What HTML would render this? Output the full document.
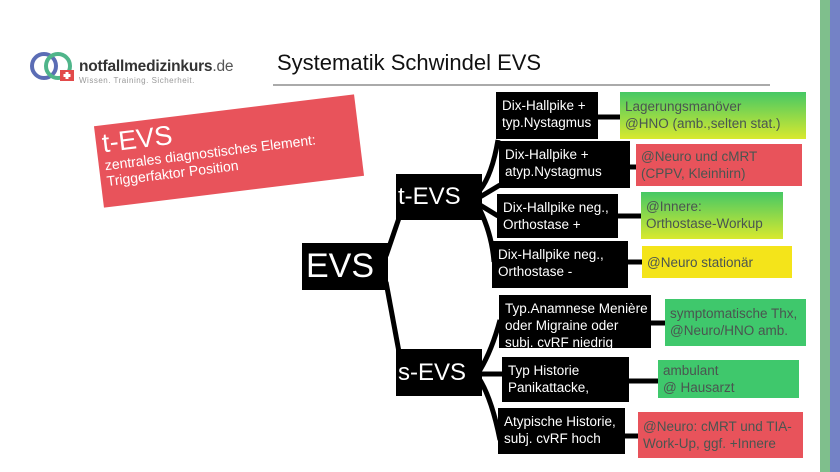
<!DOCTYPE html>
<html><head><meta charset="utf-8"><style>
body{margin:0;width:840px;height:472px;background:#fff;position:relative;overflow:hidden;font-family:"Liberation Sans",sans-serif}
.a{position:absolute;box-sizing:border-box}
.k{background:#000;color:#fff;font-size:13.5px;line-height:17px;padding:5px 0 0 6px}
.c{color:#4a5550;font-size:13.5px;line-height:17px;padding:6px 0 0 5px}
.g{background:linear-gradient(#45c865,#d9e92e)}
.gs{background:#3fc86c}
.r{background:#e8535b}
.y{background:#f4e41a}
</style></head><body>
<div class="a" style="left:820px;top:0;width:10px;height:472px;background:#7fbf8c"></div>
<div class="a" style="left:830px;top:0;width:10px;height:472px;background:#7482c6"></div>
<svg class="a" style="left:28px;top:48px" width="50" height="40"><circle cx="16" cy="18" r="12" fill="none" stroke="#5b6db5" stroke-width="4"/><circle cx="30" cy="18" r="12" fill="none" stroke="#4fb58a" stroke-width="4"/><rect x="32" y="22" width="14" height="11" fill="#e24a4a"/><rect x="37.5" y="24" width="3" height="7" fill="#fff"/><rect x="35.5" y="26" width="7" height="3" fill="#fff"/></svg>
<div class="a" style="left:79px;top:58px;font-size:15.5px;color:#333;font-weight:bold;letter-spacing:-0.2px">notfallmedizinkurs<span style="font-weight:normal;color:#555">.de</span></div>
<div class="a" style="left:79px;top:76px;font-size:8px;color:#999;letter-spacing:0.5px">Wissen. Training. Sicherheit.</div>
<div class="a" style="left:277px;top:50px;font-size:22px;color:#111">Systematik Schwindel EVS</div>
<div class="a" style="left:273px;top:84px;width:497px;height:2px;background:#aaa"></div>
<div class="a" style="left:98px;top:110px;width:262px;height:82px;background:#e8535b;transform:rotate(-7deg);color:#fff;padding:4px 0 0 6px">
<div style="font-size:27px;line-height:28px">t-EVS</div>
<div style="font-size:14px;line-height:16px">zentrales diagnostisches Element:<br>Triggerfaktor Position</div></div>
<svg class="a" style="left:0;top:0" width="840" height="472"><g stroke="#000" stroke-width="5" fill="none">
<path d="M386 256 L399 218"/><path d="M386 282 L399 352"/>
<path d="M480 190 Q492 175 498 140"/><path d="M480 197 L500 185"/><path d="M480 205 L498 216"/><path d="M480 210 Q492 235 494 262"/>
<path d="M480 370 Q492 350 500 320"/><path d="M480 374 L504 374"/><path d="M480 380 Q492 400 500 440"/>
<path d="M597 117 L621 117"/><path d="M629 167 L637 167"/><path d="M617 216 L642 216"/><path d="M627 262 L643 262"/>
<path d="M650 323 L666 323"/><path d="M628 381 L659 381"/><path d="M624 436 L639 436"/>
</g></svg>
<div class="a" style="left:302px;top:243px;width:86px;height:47px;background:#000;color:#fff;font-size:34px;line-height:47px;padding-left:4px">EVS</div>
<div class="a" style="left:396px;top:174px;width:86px;height:46px;background:#000;color:#fff;font-size:24px;line-height:46px;padding-left:2px">t-EVS</div>
<div class="a" style="left:396px;top:349px;width:86px;height:47px;background:#000;color:#fff;font-size:24px;line-height:47px;padding-left:2px">s-EVS</div>
<div class="a k" style="left:496px;top:92px;width:102px;height:47px">Dix-Hallpike +<br>typ.Nystagmus</div>
<div class="a c g" style="left:620px;top:92px;width:186px;height:47px">Lagerungsmanöver<br>@HNO (amb.,selten stat.)</div>
<div class="a k" style="left:499px;top:141px;width:131px;height:47px">Dix-Hallpike +<br>atyp.Nystagmus</div>
<div class="a c r" style="left:636px;top:144px;width:166px;height:42px;padding-top:4px">@Neuro und cMRT<br>(CPPV, Kleinhirn)</div>
<div class="a k" style="left:497px;top:194px;width:121px;height:44px">Dix-Hallpike neg.,<br>Orthostase +</div>
<div class="a c g" style="left:641px;top:192px;width:142px;height:47px">@Innere:<br>Orthostase-Workup</div>
<div class="a k" style="left:492px;top:241px;width:136px;height:47px">Dix-Hallpike neg.,<br>Orthostase -</div>
<div class="a c y" style="left:642px;top:246px;width:150px;height:32px;padding-top:8px">@Neuro stationär</div>
<div class="a k" style="left:499px;top:295px;width:152px;height:53px;overflow:hidden">Typ.Anamnese Menière<br>oder Migraine oder<br>subj. cvRF niedrig</div>
<div class="a c gs" style="left:665px;top:299px;width:141px;height:47px">symptomatische Thx,<br>@Neuro/HNO amb.</div>
<div class="a k" style="left:502px;top:357px;width:127px;height:45px">Typ Historie<br>Panikattacke,</div>
<div class="a c gs" style="left:658px;top:360px;width:141px;height:38px;padding-top:2px">ambulant<br>@ Hausarzt</div>
<div class="a k" style="left:498px;top:408px;width:127px;height:46px">Atypische Historie,<br>subj. cvRF hoch</div>
<div class="a c r" style="left:638px;top:412px;width:165px;height:46px">@Neuro: cMRT und TIA-<br>Work-Up, ggf. +Innere</div>
</body></html>
